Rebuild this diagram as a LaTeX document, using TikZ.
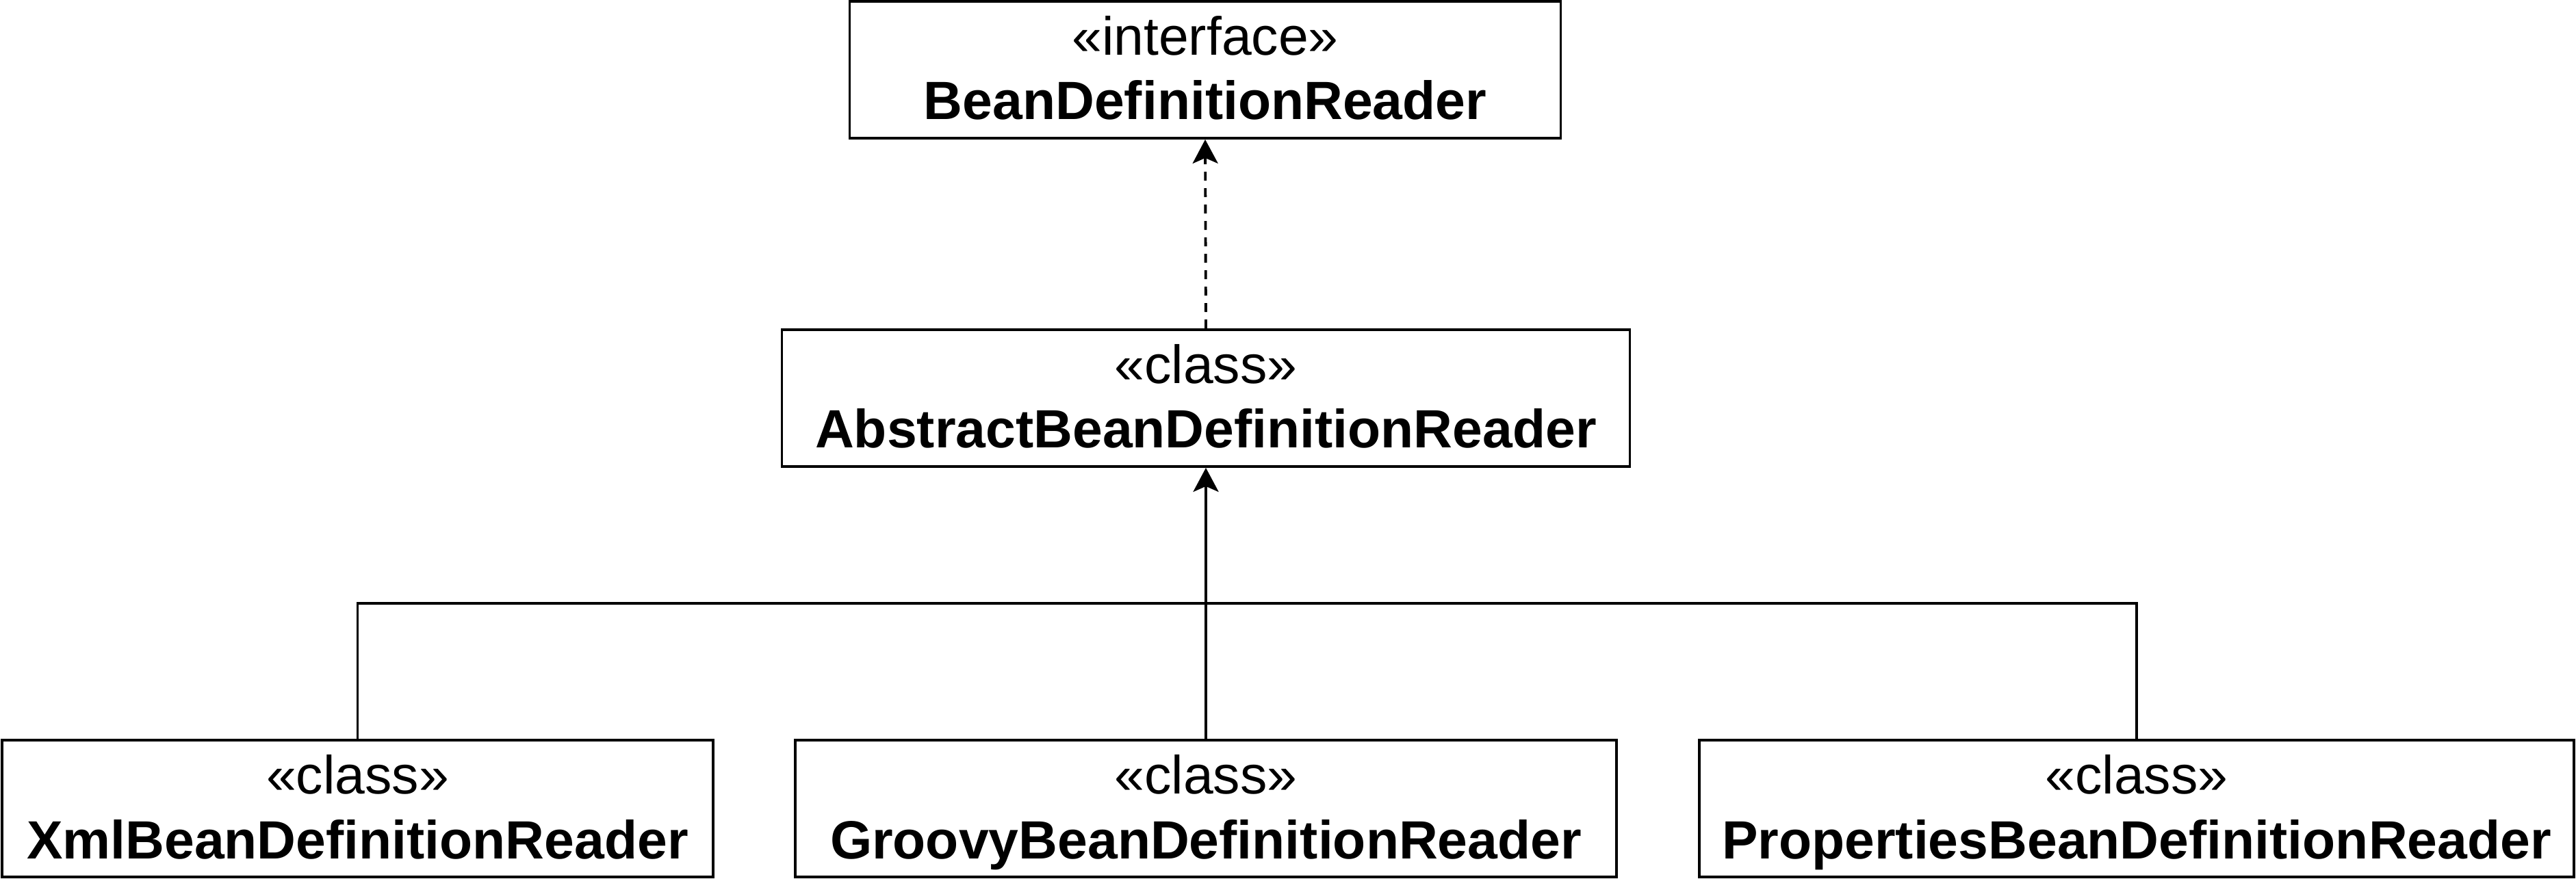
\documentclass[tikz,border=0pt]{standalone}
\usepackage{fontspec}
\setmainfont{Liberation Sans}
\usetikzlibrary{arrows.meta}

\begin{document}
\begin{tikzpicture}[
  umlbox/.style={draw,line width=1.1pt,inner sep=0pt,align=center,minimum height=2cm,
    text height=1.46cm,text depth=0cm,font=\fontsize{22.4pt}{27pt}\selectfont},
  conn/.style={line width=1.1pt},
  realizes/.style={conn,dash pattern=on 0.13cm off 0.11cm,-{Stealth[length=0.35cm,width=0.37cm,inset=0.08cm]}},
  extends/.style={conn,-{Stealth[length=0.35cm,width=0.37cm,inset=0.08cm]}}]
\useasboundingbox (0,0) rectangle (37.64,12.84);
\node[umlbox,minimum width=10.39cm] (iface) at (17.61,11.82) {«interface»\\\textbf{BeanDefinitionReader}};
\node[umlbox,minimum width=12.39cm] (abstract) at (17.62,7.02) {«class»\\\textbf{AbstractBeanDefinitionReader}};
\node[umlbox,minimum width=10.39cm] (xml) at (5.225,1.02) {«class»\\\textbf{XmlBeanDefinitionReader}};
\node[umlbox,minimum width=12.0cm] (groovy) at (17.62,1.02) {«class»\\\textbf{GroovyBeanDefinitionReader}};
\node[umlbox,minimum width=12.78cm] (props) at (31.22,1.02) {«class»\\\textbf{PropertiesBeanDefinitionReader}};
\coordinate (bus) at (17.62,4.02);
\draw[realizes] (abstract.north) -- (iface.south);
\draw[extends] (groovy.north) -- (abstract.south);
\draw[conn] (xml.north) |- (bus) -| (props.north);
\end{tikzpicture}
\end{document}
